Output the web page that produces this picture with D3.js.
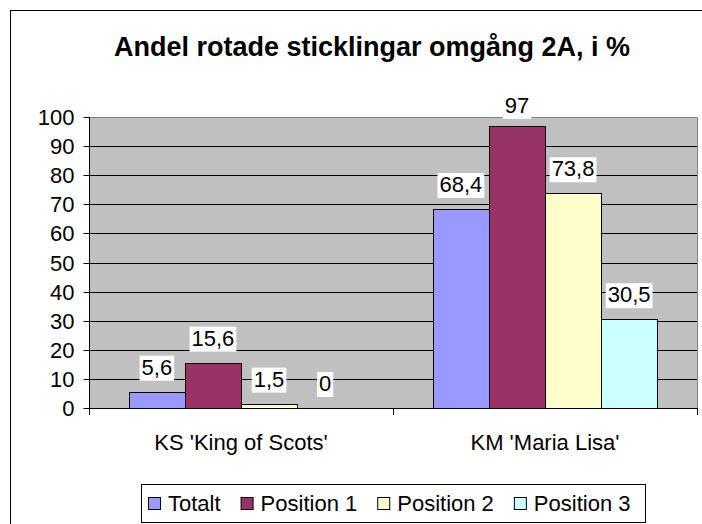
<!DOCTYPE html>
<html>
<head>
<meta charset="utf-8">
<script src="https://cdn.jsdelivr.net/npm/d3@7"></script>
<style>
  body { margin: 0; background: #fff; }
  text { font-family: "Liberation Sans", Arial, sans-serif; }
</style>
</head>
<body>
<div class="chart"></div>
<script>
var categories = ["KS 'King of Scots'", "KM 'Maria Lisa'"];
var seriesNames = ["Totalt", "Position 1", "Position 2", "Position 3"];
var totalt = [5.6, 68.4];
var position1 = [15.6, 97];
var position2 = [1.5, 73.8];
var position3 = [0, 30.5];
var yTicks = [0, 10, 20, 30, 40, 50, 60, 70, 80, 90, 100];
var seriesColors = ["#9999FF", "#993366", "#FFFFCC", "#CCFFFF"];

var seriesValues = [totalt, position1, position2, position3];

function fmt(v) {
    return String(v).replace(".", ",");
}

var svg = d3.select(".chart")
    .append("svg")
    .attr("width", 702)
    .attr("height", 524);

// outer chart border (runs off the picture on the right and bottom)
svg.append("rect")
    .attr("x", 10.5).attr("y", 10.5)
    .attr("width", 740).attr("height", 560)
    .attr("fill", "#fff")
    .attr("stroke", "#000");

svg.append("text")
    .attr("x", 372)
    .attr("y", 56)
    .attr("text-anchor", "middle")
    .attr("font-size", 27)
    .attr("font-weight", "bold")
    .text("Andel rotade sticklingar omgång 2A, i %");

var pLeft = 89, pRight = 697, pTop = 117, pBottom = 408;

var x0 = d3.scaleBand().domain(categories).range([pLeft, pRight]);
var x1 = d3.scaleBand().domain(seriesNames).range([0, x0.bandwidth()]).paddingOuter(0.71);
var y = d3.scaleLinear().domain([0, 100]).range([pBottom, pTop]);

// plot background
svg.append("rect")
    .attr("x", pLeft).attr("y", pTop)
    .attr("width", pRight - pLeft).attr("height", pBottom - pTop)
    .attr("fill", "#C0C0C0");

svg.selectAll(".grid")
    .data(yTicks.filter(function(d) { return d > 0 && d < 100; }))
    .enter()
    .append("line")
    .attr("x1", pLeft).attr("x2", pRight)
    .attr("y1", function(d) { return Math.round(y(d)) + 0.5; })
    .attr("y2", function(d) { return Math.round(y(d)) + 0.5; })
    .attr("stroke", "#000");

// plot border top / right
svg.append("path")
    .attr("d", "M" + pLeft + "," + (pTop + 0.5) + "H" + (pRight + 0.5) + "V" + pBottom)
    .attr("fill", "none")
    .attr("stroke", "#808080");

// bars
for (let i = 0; i < seriesNames.length; i++) {
    svg.selectAll(".bar" + i)
        .data(seriesValues[i])
        .enter()
        .append("rect")
        .attr("x", function(d, j) { return Math.round(x0(categories[j]) + x1(seriesNames[i])) + 0.5; })
        .attr("y", function(d) { return Math.round(y(d)) + 0.5; })
        .attr("width", Math.round(x1.bandwidth()))
        .attr("height", function(d) { return Math.round(y(0)) - Math.round(y(d)); })
        .attr("fill", seriesColors[i])
        .attr("stroke", function(d) { return d > 0 ? "#000" : "none"; });
}

// axes
var yAxis = svg.append("g")
    .attr("transform", "translate(" + (pLeft + 0.5) + ",0)")
    .call(d3.axisLeft(y).tickValues(yTicks).tickSize(6).tickSizeOuter(0).tickPadding(9));
yAxis.select(".domain").remove();
yAxis.selectAll("text").attr("font-size", 22).attr("font-family", "Liberation Sans, Arial, sans-serif").attr("fill", "#000");
yAxis.selectAll("line").attr("stroke", "#000");
yAxis.selectAll(".tick").attr("transform", function(d) { return "translate(0," + (Math.round(y(d)) + 0.5) + ")"; });

var xAxis = svg.append("g")
    .attr("transform", "translate(0," + (pBottom + 0.5) + ")")
    .call(d3.axisBottom(x0).tickSize(0).tickPadding(26));
xAxis.select(".domain").remove();
xAxis.selectAll("text").attr("font-size", 22).attr("font-family", "Liberation Sans, Arial, sans-serif").attr("fill", "#000");

svg.append("line")
    .attr("x1", pLeft + 0.5).attr("x2", pLeft + 0.5)
    .attr("y1", pTop).attr("y2", pBottom + 7)
    .attr("stroke", "#000");
svg.append("line")
    .attr("x1", pLeft).attr("x2", pRight + 1)
    .attr("y1", pBottom + 0.5).attr("y2", pBottom + 0.5)
    .attr("stroke", "#000");
svg.selectAll(".cattick")
    .data(categories)
    .enter()
    .append("line")
    .attr("x1", function(d) { return x0(d) + x0.bandwidth() + 0.5; })
    .attr("x2", function(d) { return x0(d) + x0.bandwidth() + 0.5; })
    .attr("y1", pBottom).attr("y2", pBottom + 7)
    .attr("stroke", "#000");

// data labels with white boxes
for (let i = 0; i < seriesNames.length; i++) {
    seriesValues[i].forEach(function(v, j) {
        var cx = x0(categories[j]) + x1(seriesNames[i]) + x1.bandwidth() / 2;
        var by = Math.max(y(v) - 17, 113);
        var g = svg.append("g");
        var t = g.append("text")
            .attr("x", cx)
            .attr("y", by)
            .attr("text-anchor", "middle")
            .attr("font-size", 22)
            .text(fmt(v));
        var bb = t.node().getBBox();
        g.insert("rect", "text")
            .attr("x", bb.x - 2).attr("y", bb.y + 1)
            .attr("width", bb.width + 4).attr("height", bb.height)
            .attr("fill", "#fff");
    });
}

// legend
var legend = svg.append("g");
legend.append("rect")
    .attr("x", 141.5).attr("y", 484.5)
    .attr("width", 504).attr("height", 38)
    .attr("fill", "#fff")
    .attr("stroke", "#000");

var lx = 148;
for (let i = 0; i < seriesNames.length; i++) {
    legend.append("rect")
        .attr("x", lx + 0.5).attr("y", 497.5)
        .attr("width", 12).attr("height", 12)
        .attr("fill", seriesColors[i])
        .attr("stroke", "#000");
    var lt = legend.append("text")
        .attr("x", lx + 20)
        .attr("y", 511)
        .attr("font-size", 22)
        .text(seriesNames[i]);
    lx = lx + 20 + lt.node().getComputedTextLength() + 20;
}
</script>
</body>
</html>
